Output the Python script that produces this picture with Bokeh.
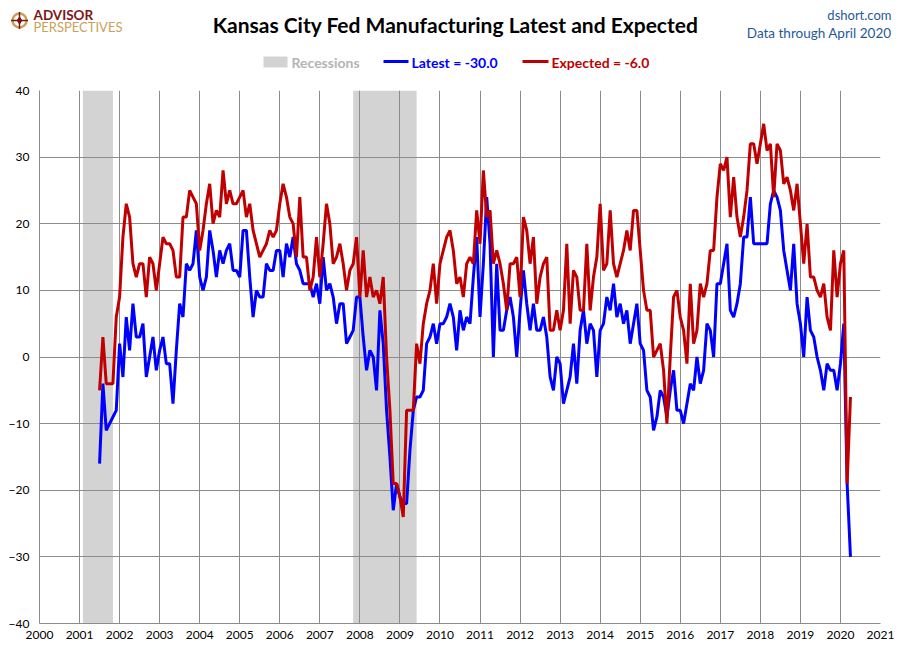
import pandas as pd
from bokeh.plotting import figure
from bokeh.layouts import column, row
from bokeh.models import FixedTicker, Label, Range1d
from bokeh.embed import file_html
from bokeh.resources import INLINE

# monthly survey values, July 2001 - April 2020
start_month = "2001-07-01"
latest = [
    -16, -4, -11, -10, -9, -8, 2, -3, 6, 1,
    8, 3, 3, 5, -3, 0, 3, -2, 1, 3,
    -1, -1, -7, 1, 8, 6, 14, 13, 14, 19,
    12, 10, 12, 19, 16, 12, 16, 14, 16, 17,
    13, 13, 12, 19, 19, 12, 6, 10, 9, 9,
    14, 13, 13, 16, 16, 12, 17, 15, 18, 14,
    13, 11, 11, 11, 9, 11, 8, 15, 10, 11,
    9, 5, 8, 8, 2, 3, 4, 9, 9, 3,
    -2, 1, 0, -5, 7, 2, -8, -15, -23, -19,
    -21, -22, -22, -14, -8, -6, -6, -5, 2, 3,
    5, 2, 5, 5, 6, 8, 6, 1, 7, 4,
    6, 5, 12, 18, 6, 14, 24, 17, 0, 14,
    4, 4, 7, 9, 6, 0, 7, 13, 8, 4,
    8, 4, 4, 6, 3, -3, -5, 0, -1, -7,
    -5, -3, 2, -4, 4, 7, 2, 5, 4, -3,
    4, 5, 9, 7, 11, 6, 8, 5, 7, 2,
    5, 8, 2, 1, -5, -6, -11, -9, -5, -6,
    -9, -5, -2, -8, -8, -10, -7, -4, -5, 0,
    -4, -2, 5, 4, 0, 11, 11, 14, 17, 7,
    6, 8, 11, 18, 18, 24, 17, 17, 17, 17,
    17, 23, 25, 24, 22, 16, 13, 10, 17, 8,
    5, 0, 9, 4, 3, 0, -2, -5, -1, -2,
    -2, -5, -1, 5, -19, -30,
]
expected = [
    -5, 3, -4, -4, -4, 6, 9, 18, 23, 21,
    14, 12, 14, 14, 9, 15, 14, 10, 14, 18,
    17, 17, 16, 12, 12, 21, 21, 25, 24, 23,
    16, 19, 23, 26, 20, 22, 21, 28, 23, 25,
    23, 23, 24, 25, 21, 23, 19, 17, 15, 16,
    17, 19, 18, 19, 23, 26, 24, 21, 20, 15,
    24, 15, 15, 10, 12, 18, 12, 17, 23, 20,
    14, 15, 17, 14, 10, 13, 14, 18, 9, 16,
    9, 12, 9, 10, 8, 12, 0, -8, -19, -19,
    -21, -24, -8, -8, -8, 2, -1, 5, 8, 10,
    14, 8, 14, 16, 18, 19, 16, 11, 12, 9,
    14, 15, 14, 22, 17, 28, 21, 22, 14, 16,
    14, 11, 7, 14, 14, 15, 9, 21, 19, 14,
    18, 8, 12, 14, 15, 4, 4, 7, 4, 7,
    17, 5, 13, 12, 7, 7, 17, 7, 12, 15,
    23, 13, 14, 22, 14, 12, 14, 16, 19, 16,
    22, 22, 16, 10, 7, 7, 0, 1, 2, -2,
    -10, 0, 9, 10, 6, 4, -1, 11, 2, 4,
    11, 9, 11, 16, 16, 24, 29, 28, 30, 21,
    27, 21, 18, 21, 25, 32, 32, 29, 32, 35,
    31, 32, 24, 32, 31, 26, 27, 25, 22, 26,
    20, 14, 20, 12, 12, 10, 9, 11, 6, 4,
    16, 9, 14, 16, -19, -6,
]
recession_start = ["2001-02-01", "2007-11-01"]
recession_end = ["2001-11-01", "2009-06-01"]
year_ticks = list(range(2000, 2022))
value_ticks = list(range(-40, 41, 10))


def dec_year(d):
    d = pd.DatetimeIndex(d)
    return list(d.year + (d.month - 1) / 12)


months = dec_year(pd.date_range(start_month, periods=len(latest), freq="MS"))

FONT = "Lato"
GRID = "#8C8C8C"
BLUE = "#0000FF"
RED = "#C00000"
REC = "#D3D3D3"
NAVY = "#1F5A96"
GOLD = "#C9A25A"
MAROON = "#7F1416"

# --- header: title, logo, source and legend (pixel coordinates, y down) ---
W, HEAD = 894, 82
head = figure(width=W, height=HEAD, output_backend="svg", toolbar_location=None,
              x_range=Range1d(0, W), y_range=Range1d(HEAD, 0),
              x_axis_location=None, y_axis_location=None,
              min_border=0, min_border_left=0, min_border_right=0,
              min_border_top=0, min_border_bottom=0)
head.grid.visible = False
head.outline_line_color = None


def text(s, x, y, size, color, style="normal", align="left", font=FONT):
    head.add_layout(Label(x=x, y=y, text=s, text_font=font,
                          text_font_size=f"{size}px", text_color=color,
                          text_font_style=style, text_align=align,
                          text_baseline="middle"))


text("Kansas City Fed Manufacturing Latest and Expected", 455, 24, 21, "black", "bold", "center")
text("dshort.com", 891, 14, 13, NAVY, align="right")
text("Data through April 2020", 891, 32, 13.5, NAVY, align="right")

# logo: gold ring with a maroon compass star
head.scatter([19], [20], size=14, marker="circle", fill_color=None,
             line_color=GOLD, line_width=2.5)
head.scatter([19], [20], size=17, marker="cross", line_color=MAROON, line_width=1.5)
head.scatter([19], [20], size=7, marker="diamond", fill_color=MAROON, line_color=MAROON)
text("ADVISOR", 33, 14.5, 13.5, MAROON, "bold")
text("PERSPECTIVES", 33, 26.5, 13, GOLD)

# legend entries
head.quad(left=[263], right=[287], top=[56], bottom=[67],
          fill_color=REC, line_color=None)
text("Recessions", 291, 61.5, 14, "#B4B4B4", "bold")
head.line([383, 408], [61, 61], line_color=BLUE, line_width=3)
text("Latest = -30.0", 411, 61.5, 14, BLUE, "bold")
head.line([522, 548], [61, 61], line_color=RED, line_width=3)
text("Expected = -6.0", 551, 61.5, 14, RED, "bold")

# --- main chart ---
p = figure(frame_width=841, frame_height=533, output_backend="svg", toolbar_location=None,
           x_range=Range1d(2000, 2021), y_range=Range1d(-40, 40),
           min_border_left=39, min_border_right=14, min_border_top=8, min_border_bottom=22)
p.outline_line_color = None

# recession bands sit under the grid lines
p.quad(left=dec_year(recession_start), right=dec_year(recession_end),
       bottom=-40, top=40, fill_color=REC, line_color=None, level="image")

p.line(months, latest, line_color=BLUE, line_width=3)
p.line(months, expected, line_color=RED, line_width=3)

p.xaxis.ticker = FixedTicker(ticks=year_ticks)
p.yaxis.ticker = FixedTicker(ticks=value_ticks)
p.xgrid.ticker = FixedTicker(ticks=year_ticks)
p.ygrid.ticker = FixedTicker(ticks=value_ticks)
for g in (p.xgrid, p.ygrid):
    g.grid_line_color = GRID
    g.grid_line_width = 1
for ax in (p.xaxis, p.yaxis):
    ax.axis_line_color = GRID
    ax.major_tick_out = 0
    ax.major_tick_in = 0
    ax.major_tick_line_color = None
    ax.minor_tick_line_color = None
    ax.major_label_text_font = FONT
    ax.major_label_text_font_size = "12px"
    ax.major_label_text_color = "black"
p.xaxis.major_label_standoff = 7
p.yaxis.major_label_standoff = 10

# wrap each figure in its own row so the column does not line up their frames
page = column(row(head), row(p), spacing=0)
open("out.html", "w").write(file_html(page, INLINE))
